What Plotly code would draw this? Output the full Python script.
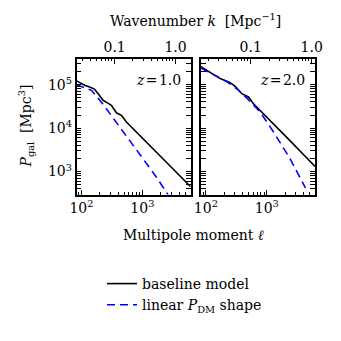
import numpy as np
import plotly.graph_objects as go

# ---- data ----
ell_base_z1 = [83, 113, 146, 165, 195, 226, 263, 310, 375, 453, 547, 1000, 2510, 6200]
p_base_z1 = [1.22e5, 9.68e4, 8.53e4, 7.83e4, 5.75e4, 4.37e4, 3.85e4, 3.34e4, 2.25e4, 1.96e4, 1.38e4, 5.96e3, 1.63e3, 4.45e2]
ell_lin_z1 = [83, 146, 226, 348, 619, 1023, 1700, 2640]
p_lin_z1 = [1.00e5, 7.41e4, 3.55e4, 1.55e4, 5.0e3, 1.95e3, 7.4e2, 2.9e2]

ell_base_z2 = [83, 118, 172, 251, 303, 389, 501, 605, 883, 2510, 6200]
p_base_z2 = [2.58e5, 1.89e5, 1.38e5, 1.11e5, 9.16e4, 6.19e4, 5.20e4, 3.64e4, 2.14e4, 4.8e3, 1.30e3]
ell_lin_z2 = [83, 137, 226, 330, 481, 780, 1290, 2420, 4300]
p_lin_z2 = [2.43e5, 1.65e5, 1.15e5, 7.83e4, 4.75e4, 2.34e4, 8.1e3, 1.95e3, 4.2e2]

chi = [3500.0, 5450.0]          # comoving distance for k = l / chi  [Mpc]
z_values = ["1.0", "2.0"]
k_ticks = [0.1, 1.0]
k_ticklabels = ["0.1", "1.0"]
ell_range = [83, 6200]
p_range = [2.95e2, 3.9e5]

FONT = "DejaVu Serif"
BLUE = "#0000ff"

fig = go.Figure()

dom_x = [[68.5 / 341, 182.7 / 341], [192.9 / 341, 307.1 / 341]]
dom_y = [1 - 186.5 / 341, 1 - 51 / 341]

series = [
    (ell_base_z1, p_base_z1, ell_lin_z1, p_lin_z1),
    (ell_base_z2, p_base_z2, ell_lin_z2, p_lin_z2),
]

for i, (eb, pb, el, pl) in enumerate(series):
    xa = "x" if i == 0 else "x2"
    ya = "y" if i == 0 else "y2"
    fig.add_trace(go.Scatter(x=eb, y=pb, mode="lines", xaxis=xa, yaxis=ya,
                             line=dict(color="black", width=1.6), name="baseline model",
                             showlegend=(i == 0)))
    fig.add_trace(go.Scatter(x=el, y=pl, mode="lines", xaxis=xa, yaxis=ya,
                             line=dict(color=BLUE, width=1.6, dash="8px,5px"),
                             name="linear <i>P</i><sub>DM</sub> shape",
                             showlegend=(i == 0)))

# invisible traces for top k-axes
fig.add_trace(go.Scatter(x=[0.1], y=[1e4], xaxis="x3", yaxis="y", mode="markers",
                         marker=dict(opacity=0), showlegend=False, hoverinfo="skip"))
fig.add_trace(go.Scatter(x=[0.1], y=[1e4], xaxis="x4", yaxis="y2", mode="markers",
                         marker=dict(opacity=0), showlegend=False, hoverinfo="skip"))

minor_ell = [m * 10 ** e for e in range(1, 4) for m in range(2, 10)]
minor_p = [m * 10 ** e for e in range(2, 6) for m in range(2, 10)]
minor_k = [m * 10 ** e for e in range(-3, 1) for m in range(2, 10)]

tickfont = dict(family=FONT, size=14, color="black")
common = dict(type="log", showline=True, linecolor="black", linewidth=1.5, ticks="inside",
              ticklen=5, tickwidth=1, tickcolor="black", showgrid=False, zeroline=False,
              tickfont=tickfont, automargin=False)

lr = [np.log10(ell_range[0]), np.log10(ell_range[1])]
yr = [np.log10(p_range[0]), np.log10(p_range[1])]

for i in range(2):
    sx = "" if i == 0 else "2"
    fig.layout["xaxis" + sx] = dict(common, domain=dom_x[i], range=lr, anchor="y" + sx,
                                    tickvals=[100, 1000], ticktext=["10<sup>2</sup>", "10<sup>3</sup>"],
                                    mirror=False,
                                    minor=dict(tickvals=minor_ell, ticks="inside", ticklen=2.5,
                                               tickcolor="black", showgrid=False))
    fig.layout["yaxis" + sx] = dict(common, domain=dom_y, range=yr, anchor="x" + sx,
                                    tickvals=[1e3, 1e4, 1e5],
                                    ticktext=["10<sup>3</sup>", "10<sup>4</sup>", "10<sup>5</sup>"],
                                    showticklabels=(i == 0), mirror="allticks",
                                    minor=dict(tickvals=minor_p, ticks="inside", ticklen=2.5,
                                               tickcolor="black", showgrid=False))
    kr = [np.log10(ell_range[0] / chi[i]), np.log10(ell_range[1] / chi[i])]
    fig.layout["xaxis" + str(3 + i)] = dict(common, overlaying="x" + sx, side="top", anchor="y" + sx,
                                            range=kr, tickvals=k_ticks, ticktext=k_ticklabels,
                                            minor=dict(tickvals=minor_k, ticks="inside", ticklen=2.5,
                                                       tickcolor="black", showgrid=False))
    fig.add_annotation(text="<i>z</i>\u200a=\u200a" + z_values[i],
                       xref="x" + sx + " domain", yref="y" + sx + " domain",
                       x=0.93, y=0.845, xanchor="right", yanchor="middle", showarrow=False,
                       font=dict(family=FONT, size=14, color="black"))

fig.add_annotation(text="Wavenumber <i>k</i>  [Mpc<sup>\u22121</sup>]", xref="paper", yref="paper",
                   x=188 / 341, y=1 - 12 / 341, showarrow=False, xanchor="center", yanchor="middle",
                   font=dict(family=FONT, size=14, color="black"))
fig.add_annotation(text="Multipole moment <i>\u2113</i>", xref="paper", yref="paper",
                   x=185 / 341, y=1 - 226.5 / 341, showarrow=False, xanchor="center", yanchor="middle",
                   font=dict(family=FONT, size=14, color="black"))
fig.add_annotation(text="<i>P</i><sub>gal</sub>  [Mpc<sup>3</sup>]", xref="paper", yref="paper",
                   x=18.5 / 341, y=1 - 118 / 341, showarrow=False, textangle=-90,
                   xanchor="center", yanchor="middle",
                   font=dict(family=FONT, size=14, color="black"))

fig.update_layout(
    width=341, height=341, margin=dict(l=0, r=0, t=0, b=0, autoexpand=False),
    paper_bgcolor="white", plot_bgcolor="white",
    legend=dict(x=94 / 341, y=1 - 260 / 341, xanchor="left", yanchor="top",
                font=dict(family=FONT, size=14, color="black"), bgcolor="rgba(0,0,0,0)",
                tracegroupgap=2),
)

fig.write_html("out.html")
